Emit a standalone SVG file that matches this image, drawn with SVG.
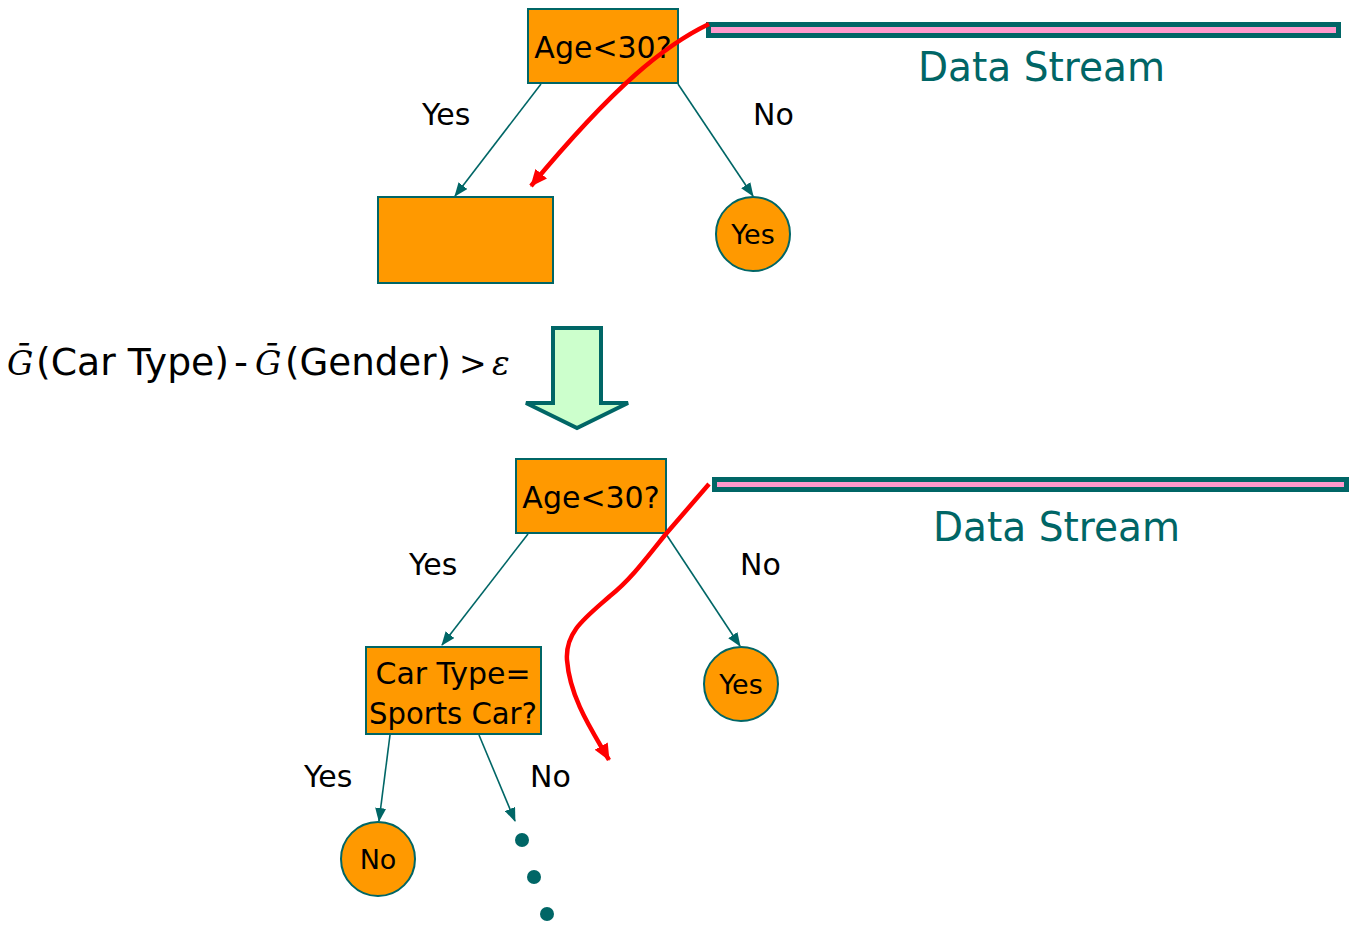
<svg xmlns="http://www.w3.org/2000/svg" width="1350" height="946" viewBox="0 0 1350 946">
<style>
.box{fill:#FF9900;stroke:#006666;stroke-width:2}
.t{font-family:"DejaVu Sans","Liberation Sans",sans-serif;font-size:30px;fill:#000}
.tc{font-family:"DejaVu Sans","Liberation Sans",sans-serif;font-size:27px;fill:#000;text-anchor:middle}
.edge{stroke:#006666;stroke-width:1.6;fill:none;marker-end:url(#ah)}
.red{stroke:#FF0000;stroke-width:4.5;fill:none;marker-end:url(#rh)}
.bar{fill:#FF99CC;stroke:#006666;stroke-width:5}
.ds{font-family:"DejaVu Sans","Liberation Sans",sans-serif;font-size:40px;fill:#006666}
.f{font-family:"DejaVu Sans","Liberation Sans",sans-serif;font-size:37px;fill:#000}
.g{font-family:"DejaVu Serif","Liberation Serif",serif;font-style:italic;font-size:33px;fill:#000}
</style>
<defs>
<marker id="ah" markerWidth="14" markerHeight="11" refX="13" refY="5.5" orient="auto" markerUnits="userSpaceOnUse">
<path d="M0,0 L14,5.5 L0,11 Z" fill="#006666"/>
</marker>
<marker id="rh" markerWidth="17" markerHeight="15" refX="16" refY="7.5" orient="auto" markerUnits="userSpaceOnUse">
<path d="M0,0 L17,7.5 L0,15 Z" fill="#FF0000"/>
</marker>
</defs>

<g id="connectors">
<line class="edge" x1="541" y1="84" x2="455" y2="196"/>
<line class="edge" x1="678" y1="84" x2="753" y2="196"/>
<line class="edge" x1="528" y1="534" x2="442" y2="645"/>
<line class="edge" x1="666" y1="534" x2="740" y2="646"/>
<line class="edge" x1="390" y1="735" x2="379" y2="821"/>
<line class="edge" x1="479" y1="735" x2="515" y2="821"/>
</g>

<g id="labels">
<text class="t" x="422" y="125">Yes</text>
<text class="t" x="753" y="125">No</text>
<text class="t" x="409" y="575">Yes</text>
<text class="t" x="740" y="575">No</text>
<text class="t" x="304" y="787">Yes</text>
<text class="t" x="530" y="787">No</text>
</g>

<g id="age1">
<rect class="box" x="528" y="9" width="150" height="74"/>
<text class="t" x="603" y="58" text-anchor="middle">Age&lt;30?</text>
</g>
<g id="leaf-box">
<rect class="box" x="378" y="197" width="175" height="86"/>
</g>
<g id="yes1">
<circle class="box" cx="753" cy="234" r="37"/>
<text class="tc" x="753" y="244">Yes</text>
</g>

<g id="stream1">
<rect class="bar" x="708.5" y="24.5" width="630" height="11"/>
<text class="ds" x="918" y="81" textLength="247" lengthAdjust="spacingAndGlyphs">Data Stream</text>
</g>

<g id="red1">
<path class="red" d="M709,24 C665,45 615,85 531,186"/>
</g>

<g id="formula">
<text class="g" x="7" y="375">Ḡ</text>
<text class="f" x="36" y="375" textLength="193" lengthAdjust="spacingAndGlyphs">(Car Type)</text>
<text class="f" x="234" y="375" textLength="14" lengthAdjust="spacingAndGlyphs">-</text>
<text class="g" x="255" y="375">Ḡ</text>
<text class="f" x="285" y="375" textLength="166" lengthAdjust="spacingAndGlyphs">(Gender)</text>
<text class="g" x="459" y="375" style="font-style:normal" font-size="30">&gt;</text>
<text class="g" x="492" y="375" font-size="30">ε</text>
</g>

<g id="big-arrow">
<path d="M553,328 L601,328 L601,403 L628,403 L577,428 L526,403 L553,403 Z" fill="#CCFFCC" stroke="#006666" stroke-width="4" stroke-linejoin="miter"/>
</g>

<g id="age2">
<rect class="box" x="516" y="459" width="150" height="74"/>
<text class="t" x="591" y="508" text-anchor="middle">Age&lt;30?</text>
</g>
<g id="yes2">
<circle class="box" cx="741" cy="684" r="37"/>
<text class="tc" x="741" y="694">Yes</text>
</g>
<g id="cartype">
<rect class="box" x="366" y="647" width="175" height="87"/>
<text class="t" x="453" y="684" text-anchor="middle" textLength="155" lengthAdjust="spacingAndGlyphs">Car Type=</text>
<text class="t" x="453" y="724" text-anchor="middle" textLength="168" lengthAdjust="spacingAndGlyphs">Sports Car?</text>
</g>
<g id="no-leaf">
<circle class="box" cx="378" cy="859" r="37"/>
<text class="tc" x="378" y="869">No</text>
</g>
<g id="dots">
<circle cx="522" cy="840" r="7" fill="#006666"/>
<circle cx="534" cy="877" r="7" fill="#006666"/>
<circle cx="547" cy="914" r="7" fill="#006666"/>
</g>

<g id="stream2">
<rect class="bar" x="714.5" y="479.5" width="632" height="10"/>
<text class="ds" x="933" y="541" textLength="247" lengthAdjust="spacingAndGlyphs">Data Stream</text>
</g>

<g id="red2">
<path class="red" d="M709,484 L665,535 C645,560 630,580 610,596 C585,618 565,632 567,660 C570,700 595,735 609,760"/>
</g>
</svg>
